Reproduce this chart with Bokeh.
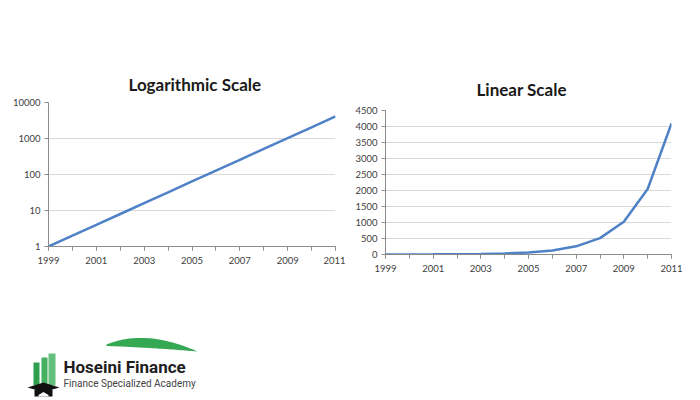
import numpy as np
from bokeh.plotting import figure
from bokeh.layouts import column, row
from bokeh.models import Range1d, FixedTicker, NumeralTickFormatter, Spacer
from bokeh.core.properties import value
from bokeh.embed import file_html
from bokeh.resources import INLINE

years = [1999, 2000, 2001, 2002, 2003, 2004, 2005, 2006, 2007, 2008, 2009, 2010, 2011]
values = [1, 2, 4, 8, 16, 32, 64, 128, 256, 512, 1024, 2048, 4096]
x_label_years = [1999, 2001, 2003, 2005, 2007, 2009, 2011]
log_ticks = [1, 10, 100, 1000, 10000]
lin_ticks = [0, 500, 1000, 1500, 2000, 2500, 3000, 3500, 4000, 4500]

FONT = "Lato"
LINE = "#4f81c7"
GRID = "#d9d9d9"
AXIS = "#8c8c8c"
LABEL = "#404040"


def style(p, yticks, title, standoff, offset):
    p.title.text = title
    p.title.align = "left"
    p.title.offset = offset
    p.title.text_font = FONT
    p.title.text_font_size = "17px"
    p.title.text_font_style = "bold"
    p.title.text_color = "#1a1a1a"
    p.title.standoff = standoff
    p.outline_line_color = None
    p.xgrid.grid_line_color = None
    p.ygrid.grid_line_color = GRID
    p.ygrid.grid_line_width = 1
    p.xaxis.ticker = FixedTicker(ticks=x_label_years, minor_ticks=years)
    p.yaxis.ticker = FixedTicker(ticks=yticks)
    for ax in (p.xaxis, p.yaxis):
        ax.axis_line_color = AXIS
        ax.major_tick_line_color = AXIS
        ax.minor_tick_line_color = AXIS
        ax.major_tick_in = 0
        ax.major_tick_out = 4
        ax.minor_tick_in = 0
        ax.minor_tick_out = 4
        ax.major_label_text_font = FONT
        ax.major_label_text_font_size = "9.5px"
        ax.major_label_text_color = LABEL
    p.yaxis.minor_tick_line_color = None
    p.xaxis.major_label_standoff = 6
    p.yaxis.major_label_standoff = 4
    p.yaxis.formatter = NumeralTickFormatter(format="0")
    p.xaxis.formatter = NumeralTickFormatter(format="0")
    p.background_fill_color = "white"
    p.border_fill_color = "white"


p1 = figure(output_backend="svg", toolbar_location=None, y_axis_type="log",
            frame_width=287, frame_height=144,
            min_border_left=48, min_border_right=10, min_border_top=102, min_border_bottom=44,
            x_range=Range1d(1999, 2011), y_range=Range1d(1, 10000))
p1.line(years, values, line_color=LINE, line_width=2.5)
style(p1, log_ticks, "Logarithmic  Scale", 15, 80)

p2 = figure(output_backend="svg", toolbar_location=None,
            frame_width=286, frame_height=144,
            min_border_left=40, min_border_right=14, min_border_top=102, min_border_bottom=36,
            x_range=Range1d(1999, 2011), y_range=Range1d(0, 4500))
p2.line(years, values, line_color=LINE, line_width=2.5)
style(p2, lin_ticks, "Linear Scale", 21, 91)

# logo panel (page pixel coordinates)
logo = figure(output_backend="svg", toolbar_location=None, width=690, height=108,
              x_range=Range1d(0, 690), y_range=Range1d(398, 290),
              min_border=0, outline_line_color=None)
logo.axis.visible = False
logo.grid.visible = False


def qb(p0, pc, p2_, n=40):
    s = np.linspace(0, 1, n)
    xs = (1 - s) ** 2 * p0[0] + 2 * (1 - s) * s * pc[0] + s ** 2 * p2_[0]
    ys = (1 - s) ** 2 * p0[1] + 2 * (1 - s) * s * pc[1] + s ** 2 * p2_[1]
    return list(xs), list(ys)


tx, ty = qb((106, 344), (145, 328), (197, 351))
bx, by = qb((197, 351), (150, 347), (106, 345.5))
logo.patch(tx + bx, ty + by, fill_color="#35a853", line_color=None)

logo.quad(left=[33, 41, 48], right=[39, 47, 55], top=[362, 357, 353], bottom=[385, 385, 385],
          fill_color=["#2f9e4c", "#45b060", "#62c07a"], line_color=None)
logo.patch([27, 43, 59, 43], [387, 382, 387, 391.5], fill_color="#111111", line_color=None)
logo.patch([34, 52, 52, 34], [389, 389, 396, 396], fill_color="#111111", line_color=None)
logo.patch([38, 43, 48, 48, 38], [394.5, 391.5, 394.5, 396, 396], fill_color="white", line_color=None)

logo.text(x=[63], y=[366], text=["Hoseini Finance"], text_font=value("Roboto"),
          text_font_size="17px", text_font_style="bold", text_color="#1e1e1e",
          text_baseline="middle")
logo.text(x=[63], y=[383], text=["Finance Specialized Academy"], text_font=value("Roboto"),
          text_font_size="10px", text_color="#444444", text_baseline="middle")

layout = column(row(p1, column(Spacer(height=8), p2)), logo)
open("out.html", "w").write(file_html(layout, INLINE))
